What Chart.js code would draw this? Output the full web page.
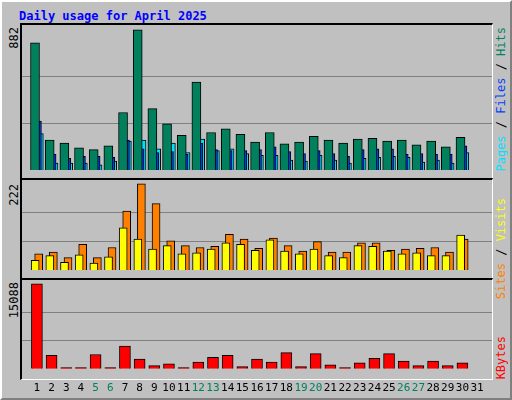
<!DOCTYPE html>
<html>
<head>
<script src="https://cdn.jsdelivr.net/npm/chart.js@4"></script>
<style>
body{margin:0;background:#fff}
#wrap{position:relative;width:508px;height:396px;background:#c0c0c0;border-top:2px solid #fff;border-left:2px solid #fff;border-right:2px solid #808080;border-bottom:2px solid #808080;font-family:"DejaVu Sans Mono",monospace}
.panel{position:absolute;left:18px;width:470px;border-top:2px solid #000;border-left:2px solid #000;border-right:1px solid #fff;border-bottom:1px solid #fff}
canvas{position:absolute}
.vt{position:absolute;writing-mode:vertical-rl;transform:rotate(180deg);font-size:12px;white-space:nowrap}
</style>
</head>
<body>
<div id="wrap">
<div style="position:absolute;left:17px;top:7px;color:#0000ff;font-weight:bold;font-size:12px">Daily usage for April 2025</div>
<div class="panel" style="top:21px;height:154px"></div>
<div class="panel" style="top:176px;height:99px"></div>
<div class="panel" style="top:276px;height:99px"></div>
<canvas id="c1" style="left:20px;top:23px" width="470" height="153"></canvas>
<canvas id="c2" style="left:20px;top:178px" width="470" height="98"></canvas>
<canvas id="c3" style="left:20px;top:278px" width="470" height="120"></canvas>
<div class="vt" style="left:5px;top:25px">882</div>
<div class="vt" style="left:5px;top:182px">222</div>
<div class="vt" style="left:5px;top:280px">15088</div>
<div class="vt" style="left:492px;top:25px"><span style="color:#00e0ff">Pages</span> / <span style="color:#0040ff">Files</span> / <span style="color:#00805c">Hits</span></div>
<div class="vt" style="left:492px;top:196px"><span style="color:#ff8000">Sites</span> / <span style="color:#ffff00">Visits</span></div>
<div class="vt" style="left:492px;top:334px;color:#ff0000">KBytes</div>
</div>
<script>
const days = Array.from({length: 31}, (_, i) => i + 1);
const weekend = [5, 6, 12, 13, 19, 20, 26, 27];
const hits = [800,188,170,140,128,152,362,882,386,290,218,554,236,260,224,176,236,164,176,212,188,170,194,200,182,188,158,182,146,206,0];
const files = [308,98,74,86,86,80,188,134,110,116,98,170,128,122,122,128,146,116,104,122,104,86,128,134,134,98,104,98,98,152,0];
const pages = [230,44,44,44,32,56,182,188,134,170,110,194,122,134,104,92,92,62,56,92,62,44,74,80,86,80,50,62,44,110,0];
const sites = [25,37,20,39,18,34,109,80,54,63,42,44,54,70,66,51,78,49,42,54,37,32,63,61,49,42,44,37,37,90,0];
const visits = [42,46,32,66,32,58,152,222,171,75,63,58,61,92,80,56,82,63,49,73,46,46,70,70,51,54,56,58,46,80,0];
const kbytes = [15088,2368,220,220,2533,220,4020,1707,551,881,220,1212,2038,2368,385,1707,1212,2864,385,2698,716,220,1046,1872,2698,1377,551,1377,551,1046,0];

function ds(values, color, shift, width) {
  return {data: values.map((v, i) => ({x: days[i] + shift, y: v})),
    backgroundColor: color, borderColor: '#000', borderWidth: 1,
    barThickness: width, grouped: false};
}
function opts(max, top, showX) {
  const step = max / 3;
  return {
    responsive: false, animation: false,
    layout: {padding: 0},
    plugins: {legend: {display: false}, tooltip: {enabled: false}},
    scales: {
      x: {type: 'linear', min: 0.5, max: 31.5, grid: {display: false}, border: {display: false},
        afterBuildTicks: s => { s.ticks = days.map(d => ({value: d})); },
        ticks: {display: showX, color: c => weekend.includes(c.tick.value) ? '#00805c' : '#000',
          font: {family: 'DejaVu Sans Mono', size: 11}, maxRotation: 0, autoSkip: false, padding: 5}},
      y: {min: 0, max: top, border: {display: false},
        afterBuildTicks: s => { s.ticks = [{value: step}, {value: 2 * step}]; },
        ticks: {display: false},
        grid: {color: '#808080', lineWidth: 1, drawTicks: false}}
    }
  };
}
new Chart(document.getElementById('c1'), {type: 'bar',
  data: {datasets: [ds(hits, '#00805c', -0.13, 9), ds(files, '#0040ff', 0, 9), ds(pages, '#00e0ff', 0.13, 9)]},
  options: opts(882, 913, false)});
new Chart(document.getElementById('c2'), {type: 'bar',
  data: {datasets: [ds(sites, '#ffff00', -0.12, 8), ds(visits, '#ff8000', 0.12, 8)]},
  options: opts(222, 232, false)});
new Chart(document.getElementById('c3'), {type: 'bar',
  data: {datasets: [ds(kbytes, '#ff0000', 0, 11)]},
  options: opts(15088, 15750, true)});
</script>
</body>
</html>
